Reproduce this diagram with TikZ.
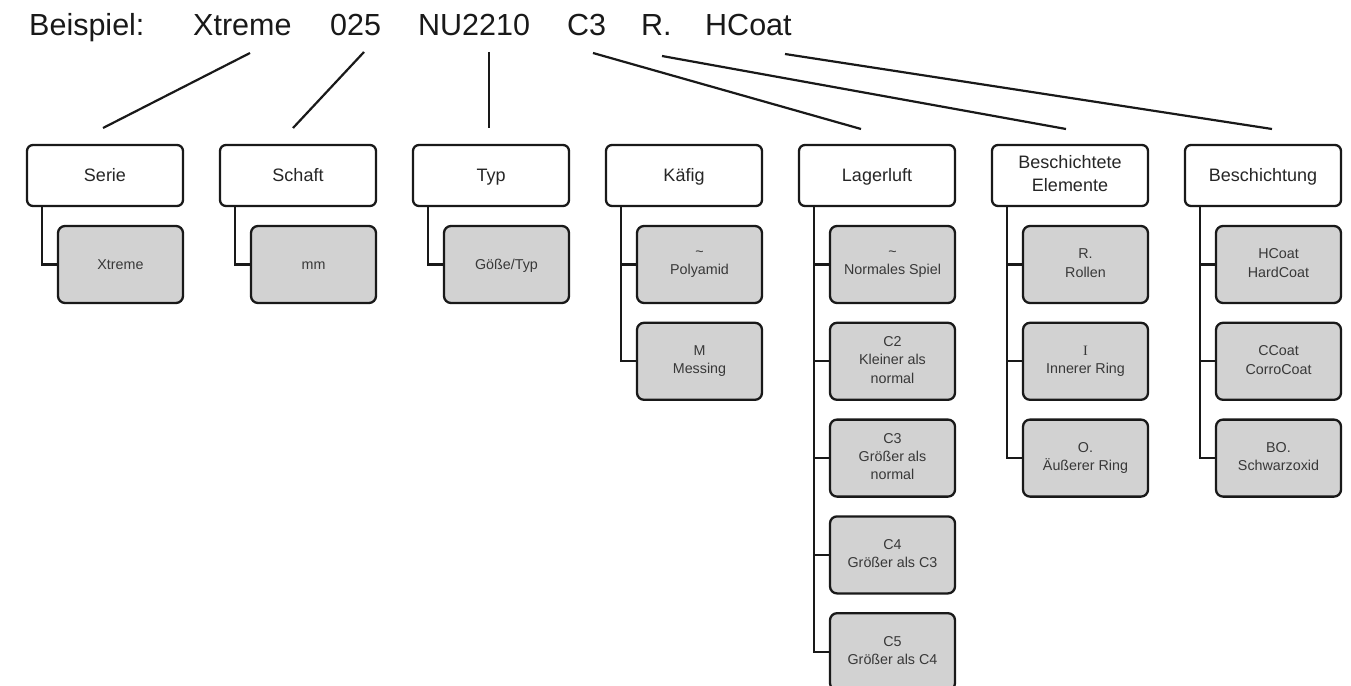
\documentclass[tikz,border=0pt]{standalone}
\usepackage{fontspec}
\setmainfont{Liberation Sans}
\newfontfamily\serifI{Liberation Serif}
\newcommand\cstrut{\rule[-0.2em]{0pt}{1.116em}}
\begin{document}
\begin{tikzpicture}[x=1pt,y=-1pt,
  hdr/.style={draw=black!90, line width=2.3pt, rounded corners=6pt, fill=white,
    minimum width=156pt, minimum height=61pt, inner sep=0pt, align=center,
    font=\fontsize{18}{23}\selectfont, text=black!85,
    execute at begin node=\cstrut, execute at end node=\cstrut},
  child/.style={draw=black!90, line width=2.3pt, rounded corners=7pt, fill=gray!35,
    minimum width=125pt, minimum height=77pt, inner sep=0pt, align=center,
    font=\fontsize{14.3}{18.3}\selectfont, text=black!78,
    execute at begin node=\cstrut, execute at end node=\cstrut},
  conn/.style={line width=2.2pt, black!90},
  word/.style={anchor=base west, inner sep=0pt, font=\fontsize{30.5}{34}\selectfont, text=black!90}
]
\useasboundingbox (0,0) rectangle (1351,685);

% title words
\node[word] (w0) at (29,35.5) {Beispiel:};
\node[word] (w1) at (193,35.5) {Xtreme};
\node[word] (w2) at (330,35.5) {025};
\node[word] (w3) at (418,35.5) {NU2210};
\node[word] (w4) at (567,35.5) {C3};
\node[word] (w5) at (641,35.5) {R.};
\node[word] (w6) at (705,35.5) {HCoat};

% headers
\node[hdr] (h1) at (105,175.5) {Serie};
\node[hdr] (h2) at (298,175.5) {Schaft};
\node[hdr] (h3) at (491,175.5) {Typ};
\node[hdr] (h4) at (684,175.5) {Käfig};
\node[hdr] (h5) at (877,175.5) {Lagerluft};
\node[hdr] (h6) at (1070,175.5) {Beschichtete\\Elemente};
\node[hdr] (h7) at (1263,175.5) {Beschichtung};

% line coordinates
\coordinate (s1) at (250,53);  \coordinate (e1) at (103,128);
\coordinate (s2) at (364,52);  \coordinate (e2) at (293,128);
\coordinate (s3) at (489,52);  \coordinate (e3) at (489,128);
\coordinate (s4) at (593,53);  \coordinate (e4) at (861,129);
\coordinate (s5) at (662,56);  \coordinate (e5) at (1066,129);
\coordinate (s6) at (785,54);  \coordinate (e6) at (1272,129);
\foreach \i in {1,...,6} \draw[conn] (s\i) -- (e\i);

% children
\node[child] (c11) at (120.5,264.5) {Xtreme};
\node[child] (c21) at (313.5,264.5) {mm};
\node[child] (c31) at (506.5,264.5) {Göße/Typ};
\node[child] (c41) at (699.5,264.5) {\textasciitilde\\Polyamid};
\node[child] (c42) at (699.5,361.3) {M\\Messing};
\node[child] (c51) at (892.5,264.5) {\textasciitilde\\Normales Spiel};
\node[child] (c52) at (892.5,361.3) {C2\\Kleiner als\\normal};
\node[child] (c53) at (892.5,458.1) {C3\\Größer als\\normal};
\node[child] (c54) at (892.5,554.9) {C4\\Größer als C3};
\node[child] (c55) at (892.5,651.7) {C5\\Größer als C4};
\node[child] (c61) at (1085.5,264.5) {R.\\Rollen};
\node[child] (c62) at (1085.5,361.3) {{\serifI I}\\Innerer Ring};
\node[child] (c63) at (1085.5,458.1) {O.\\Äußerer Ring};
\node[child] (c71) at (1278.5,264.5) {HCoat\\HardCoat};
\node[child] (c72) at (1278.5,361.3) {CCoat\\CorroCoat};
\node[child] (c73) at (1278.5,458.1) {BO.\\Schwarzoxid};

% tree connectors
\foreach \h/\c in {h1/c11, h2/c21, h3/c31, h4/c41, h4/c42,
                   h5/c51, h5/c52, h5/c53, h5/c54, h5/c55,
                   h6/c61, h6/c62, h6/c63, h7/c71, h7/c72, h7/c73}
  \draw[conn] ([xshift=16pt]\h.south west) |- (\c.west);
\end{tikzpicture}
\end{document}
